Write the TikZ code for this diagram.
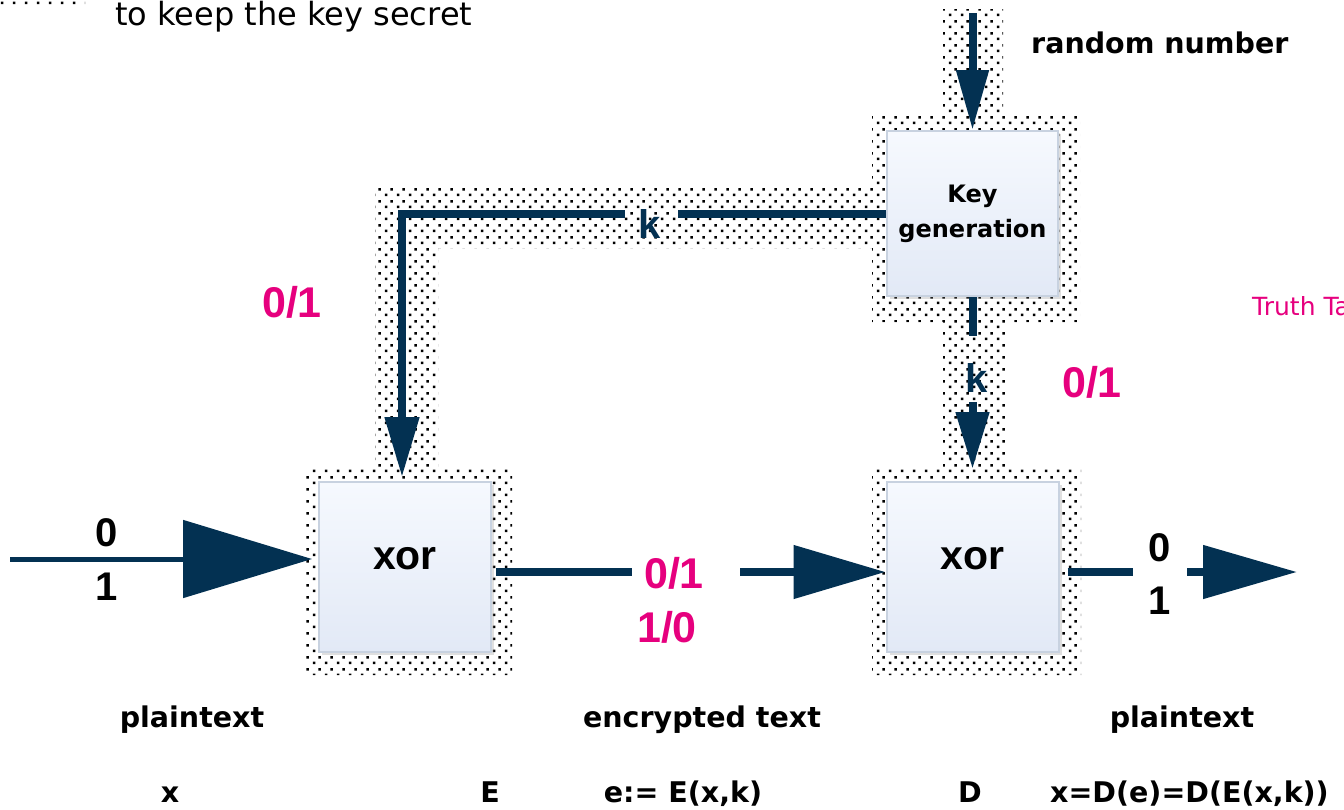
\documentclass[tikz,border=0pt]{standalone}
\usepackage{fontspec}
\setmainfont{DejaVu Sans}
\newfontfamily\arialf{Liberation Sans}
\usetikzlibrary{arrows.meta,patterns,shadows}
\definecolor{navy}{RGB}{3,49,82}
\definecolor{mag}{RGB}{230,0,126}
\definecolor{boxtop}{RGB}{246,249,254}
\definecolor{boxbot}{RGB}{226,233,246}
\definecolor{boxline}{RGB}{200,210,224}
\pgfdeclarepatternformonly{stagdots}{\pgfqpoint{0pt}{0pt}}{\pgfqpoint{12pt}{12pt}}{\pgfqpoint{12pt}{12pt}}{%
  \pgfpathrectangle{\pgfqpoint{2pt}{2pt}}{\pgfqpoint{2.7pt}{2.7pt}}%
  \pgfpathrectangle{\pgfqpoint{8pt}{8pt}}{\pgfqpoint{2.7pt}{2.7pt}}%
  \pgfusepath{fill}}
\begin{document}
\begin{tikzpicture}[x=1pt,y=-1pt,
  box/.style={draw=boxline, line width=2pt, top color=boxtop, bottom color=boxbot,
    inner sep=0pt, drop shadow={opacity=0.25, shadow xshift=3pt, shadow yshift=-3pt}},
  xorbox/.style={box, minimum width=172pt, minimum height=170pt,
    font=\arialf\bfseries\fontsize{41}{41}\selectfont, text depth=18pt},
  shaft/.style={draw=navy, line width=8pt},
  thinshaft/.style={draw=navy, line width=5pt},
  klbl/.style={text=navy, font=\arialf\bfseries\fontsize{40}{40}\selectfont, inner sep=0pt},
  num/.style={font=\arialf\bfseries\fontsize{40}{40}\selectfont, inner sep=0pt},
  magl/.style={text=mag, font=\arialf\bfseries\fontsize{43}{43}\selectfont, inner sep=0pt},
  lbl/.style={font=\bfseries\fontsize{28.5}{30}\selectfont, inner sep=0pt, anchor=base},
]
\useasboundingbox (0,0) rectangle (1344,809);
\clip (0,0) rectangle (1344,809);

% dotted (secret) regions
\fill[pattern=stagdots]
  (0,-10) rectangle (85,7)
  (943,9) rectangle (1003,115)
  (872,115) rectangle (1080,322)
  (943,322) rectangle (1005,467)
  (872,467) rectangle (1081,675)
  (375,185) rectangle (872,248)
  (375,248) rectangle (438,467)
  (305,467) rectangle (512,675);

\node[anchor=base west, inner sep=0pt, font=\fontsize{32}{32}\selectfont] (legend) at (115,25) {to keep the key secret};

% boxes
\node[box, minimum width=171pt, minimum height=165pt, align=center,
  font=\bfseries\fontsize{24}{35}\selectfont] (kg) at (972.5,213.5) {Key\\generation};
\node[xorbox] (xor1) at (405,567) {xor};
\node[xorbox] (xor2) at (972.5,567) {xor};

% random number input
\coordinate (rtop) at (972.5,13);
\draw[shaft, -{Triangle[length=60pt,width=31pt]}] (rtop) -- (kg.north);
\node[lbl, anchor=base west] (rn) at (1031,53) {random number};

% key to left xor
\node[klbl] (k1) at (650,224) {k};
\coordinate (corner) at (402,213.5);
\draw[shaft] (kg.west) -- ([xshift=28pt]k1.center |- kg.west);
\draw[shaft, line join=miter, -{Triangle[length=60pt,width=33pt]}, shorten >=4pt]
  ([xshift=-25pt]k1.center |- kg.west) -- (corner) -- (corner |- xor1.north);

% key to right xor
\node[klbl] (k2) at (977,378) {k};
\coordinate (k2a) at (972.5,336);
\coordinate (k2b) at (972.5,402);
\draw[shaft] (kg.south) -- (k2a);
\draw[shaft, -{Triangle[length=57pt,width=32pt]}, shorten >=12pt] (k2b) -- (k2b |- xor2.north);

% input
\coordinate (in) at (10,559);
\draw[thinshaft, -{Triangle[length=129pt,width=77pt]}, shorten >=6pt] (in) -- (in -| xor1.west);
\node[num] (i0) at (107,533) {0};
\node[num] (i1) at (107,587) {1};

% middle
\coordinate (m1) at (632,572);
\coordinate (m2) at (740,572);
\draw[shaft, shorten <=4pt] (xor1.east |- m1) -- (m1);
\draw[shaft, -{Triangle[length=92pt,width=52pt]}] (m2) -- (m2 -| xor2.west);
\node[magl] (e01) at (674,573) {0/1};
\node[magl] (e10) at (667,627) {1/0};

% output
\coordinate (o1) at (1133,572);
\coordinate (o2) at (1187,572);
\coordinate (oend) at (1297,572);
\draw[shaft, shorten <=8pt] (xor2.east |- o1) -- (o1);
\draw[shaft, -{Triangle[length=94pt,width=52pt]}] (o2) -- (oend);
\node[num] (o0) at (1160,548) {0};
\node[num] (o1t) at (1160,601) {1};

% magenta key bits
\node[magl] (kb1) at (292,302) {0/1};
\node[magl] (kb2) at (1092,382) {0/1};
\node[anchor=base west, inner sep=0pt, text=mag, font=\fontsize{25}{25}\selectfont] (tt) at (1252,315) {Truth Ta};

% bottom labels
\node[lbl] (p1) at (192,727) {plaintext};
\node[lbl] (p2) at (702,727) {encrypted text};
\node[lbl] (p3) at (1182,727) {plaintext};
\node[lbl] (bx) at (170,802) {x};
\node[lbl] (bE) at (490,802) {E};
\node[lbl] (be) at (683,802) {e:= E(x,k)};
\node[lbl] (bD) at (970,802) {D};
\node[lbl, anchor=base west] (bxd) at (1050,802) {x=D(e)=D(E(x,k))};
\end{tikzpicture}
\end{document}
